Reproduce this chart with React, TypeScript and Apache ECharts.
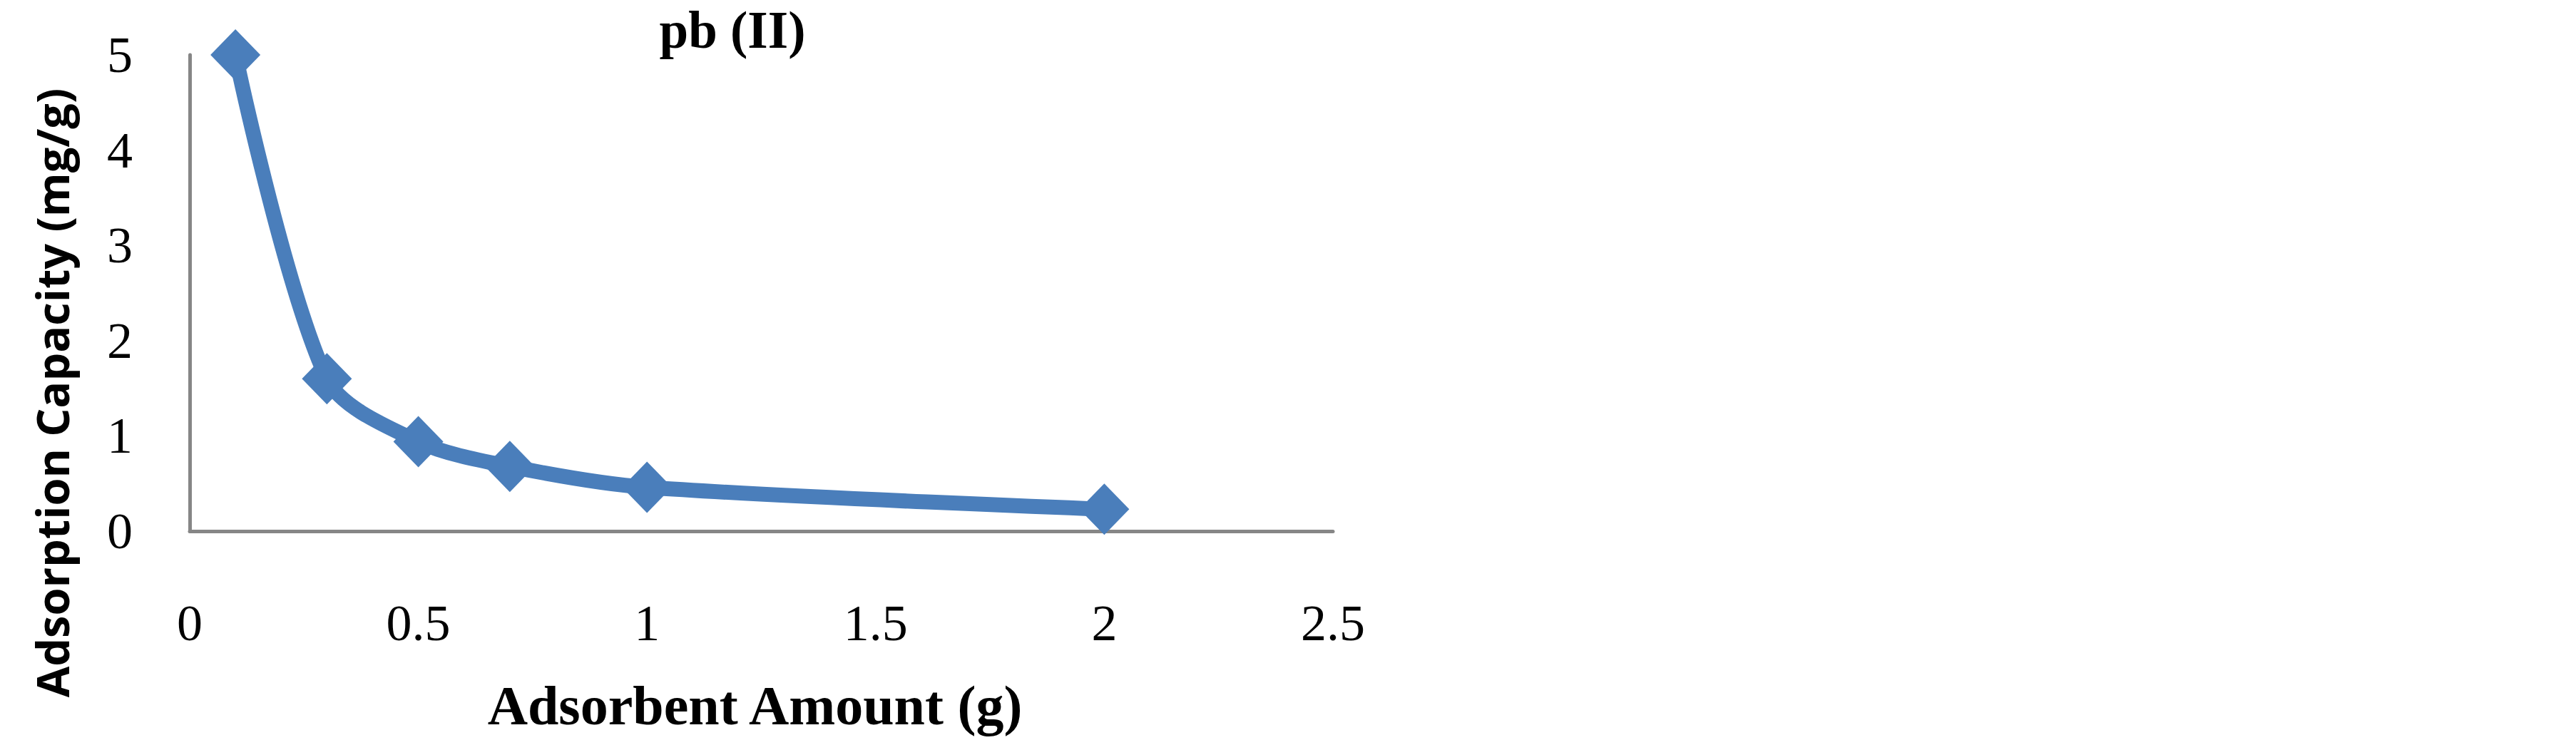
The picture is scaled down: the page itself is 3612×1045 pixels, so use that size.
import React, { useEffect, useRef } from "react";
import * as echarts from "echarts";

const titleText = "pb (II)";
const xAxisTitle = "Adsorbent Amount (g)";
const yAxisTitle = "Adsorption Capacity (mg/g)";
const adsorbentAmount = [0.1, 0.3, 0.5, 0.7, 1, 2];
const adsorptionCapacity = [5, 1.6, 0.94, 0.68, 0.46, 0.23];
const xTicks = [0, 0.5, 1, 1.5, 2, 2.5];
const yTicks = [0, 1, 2, 3, 4, 5];

export default function App() {
  const ref = useRef<HTMLDivElement>(null);
  useEffect(() => {
    if (!ref.current) return;
    const chart = echarts.init(ref.current, null, { renderer: "svg" });
    const serif = "'Liberation Serif', 'Times New Roman', serif";
    chart.setOption({
      animation: false,
      backgroundColor: "#ffffff",
      grid: { left: 266, right: 1743, top: 77, bottom: 300, containLabel: false },
      xAxis: {
        type: "value",
        min: xTicks[0],
        max: xTicks[xTicks.length - 1],
        interval: 0.5,
        name: xAxisTitle,
        nameLocation: "middle",
        nameGap: 205,
        nameTextStyle: { fontFamily: serif, fontWeight: "bold", fontSize: 78, color: "#000", padding: [0, 18, 0, 0] },
        axisLine: { show: true, lineStyle: { color: "#868686", width: 5 } },
        axisTick: { show: false },
        splitLine: { show: false },
        axisLabel: { margin: 93, fontFamily: serif, fontSize: 72, color: "#000" },
      },
      yAxis: {
        type: "value",
        min: yTicks[0],
        max: yTicks[yTicks.length - 1],
        interval: 1,
        axisLine: { show: true, lineStyle: { color: "#868686", width: 5 } },
        axisTick: { show: false },
        splitLine: { show: false },
        axisLabel: { margin: 80, fontFamily: serif, fontSize: 72, color: "#000" },
      },
      graphic: [
        {
          type: "text",
          x: 1027,
          y: 42,
          style: {
            text: titleText,
            fontFamily: serif,
            fontWeight: "bold",
            fontSize: 73,
            fill: "#000",
            align: "center",
            verticalAlign: "middle",
          },
        },
        {
          type: "text",
          x: 72,
          y: 551,
          rotation: Math.PI / 2,
          style: {
            text: yAxisTitle,
            fontFamily: "'Open Sans', 'DejaVu Sans', sans-serif",
            fontWeight: "bold",
            fontSize: 63,
            fill: "#000",
            align: "center",
            verticalAlign: "middle",
          },
        },
      ],
      series: [
        {
          type: "line",
          data: adsorbentAmount.map((x, i) => [x, adsorptionCapacity[i]]),
          smooth: 0.3,
          symbol: "diamond",
          symbolSize: [70, 72],
          showSymbol: true,
          lineStyle: { color: "#4a7ebb", width: 21 },
          itemStyle: { color: "#4a7ebb" },
        },
      ],
    });
    return () => chart.dispose();
  }, []);
  return (
    <div
      ref={ref}
      style={{ position: "fixed", left: 0, top: 0, width: 3612, height: 1045, background: "#fff" }}
    />
  );
}
